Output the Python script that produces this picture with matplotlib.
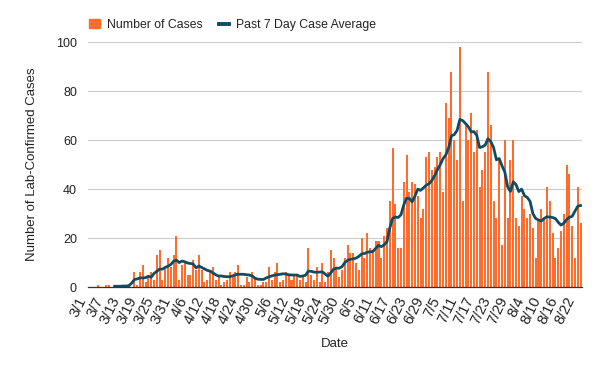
import numpy as np
import pandas as pd
import matplotlib
matplotlib.use("Agg")
from matplotlib import pyplot as plt
from matplotlib.patches import Patch
from matplotlib.lines import Line2D

plt.rcParams['font.family'] = ['Liberation Sans', 'DejaVu Sans']

# daily lab-confirmed cases, 3/1 .. 8/24
cases = [
    0, 0, 0, 1, 0, 0, 1, 1, 0, 1,
    0, 0, 0, 0, 1, 0, 6, 1, 6, 9,
    2, 4, 6, 3, 13, 15, 3, 8, 12, 8,
    13, 21, 3, 9, 10, 5, 5, 11, 7, 13,
    7, 2, 3, 6, 8, 3, 5, 1, 2, 3,
    6, 4, 6, 9, 1, 1, 4, 2, 6, 4,
    1, 1, 2, 2, 8, 3, 6, 10, 2, 3,
    6, 5, 3, 5, 5, 3, 4, 2, 16, 5,
    3, 8, 2, 10, 2, 6, 15, 12, 8, 4,
    7, 12, 17, 14, 14, 10, 7, 20, 12, 22,
    16, 15, 19, 19, 12, 21, 24, 35, 57, 34,
    16, 16, 43, 54, 39, 43, 42, 37, 28, 32,
    53, 55, 48, 49, 53, 55, 39, 75, 69, 88,
    60, 52, 98, 35, 66, 60, 71, 55, 64, 41,
    48, 55, 88, 66, 35, 28, 52, 17, 60, 28,
    52, 60, 28, 25, 37, 32, 28, 30, 24, 12,
    27, 32, 28, 41, 35, 22, 12, 16, 23, 30,
    50, 46, 25, 12, 41, 26,
]

# past 7 day average as drawn (starts a few days in)
avg = [
    None, None, None, None, None, None, None, None, None, 0.3,
    0.3, 0.3, 0.4, 0.4, 0.5, 1.5, 3.0, 3.3, 3.7, 3.7,
    3.8, 4.4, 4.0, 5.5, 6.4, 7.3, 7.3, 8.0, 8.5, 9.2,
    10.5, 11.0, 10.0, 10.6, 10.3, 9.8, 9.6, 9.4, 7.8, 8.6,
    8.0, 7.4, 6.8, 6.5, 5.8, 5.0, 4.5, 4.5, 4.3, 4.2,
    4.2, 4.5, 5.0, 5.2, 5.2, 5.2, 5.0, 4.9, 4.5, 3.6,
    3.2, 3.1, 3.1, 3.7, 4.2, 4.5, 4.9, 5.0, 5.2, 5.4,
    5.3, 5.0, 4.9, 4.9, 4.9, 4.3, 4.5, 4.8, 6.5, 6.4,
    6.1, 6.0, 6.1, 6.2, 5.3, 4.4, 5.8, 7.3, 7.7, 7.7,
    8.3, 10.0, 10.9, 11.3, 11.5, 11.8, 12.5, 13.5, 13.7, 14.2,
    14.4, 14.5, 15.8, 17.0, 16.5, 17.2, 18.5, 24.0, 28.0, 28.6,
    28.4, 29.5, 33.5, 36.3, 36.2, 34.8, 37.2, 40.0, 39.5, 40.5,
    41.6, 42.2, 43.5, 45.5, 48.0, 50.0, 52.5, 54.0, 57.0, 61.8,
    62.3, 64.0, 68.5, 68.0, 66.8, 65.5, 63.4, 63.5, 62.0, 57.0,
    57.3, 58.0, 60.6, 59.4, 57.0, 52.0, 52.5, 49.5, 47.0, 41.0,
    39.0, 43.0, 41.8, 39.0, 40.0, 37.3, 36.6, 35.0, 30.0, 28.0,
    27.4, 27.0, 28.0, 28.7, 28.6, 28.4, 28.0, 26.5, 25.3, 26.0,
    27.5, 28.5, 28.9, 31.0, 33.0, 33.3,
]

days = pd.date_range("2020-03-01", periods=len(cases))
date_labels = [f"{d.month}/{d.day}" for d in days]

bar_color = '#ff6d2e'
line_color = '#0f4c63'
text_color = '#222222'

fig = plt.figure(figsize=(6, 3.71), dpi=100)
ax = fig.add_axes([88 / 600, 1 - 287 / 371, 494 / 600, (287 - 42.3) / 371])

x = np.arange(len(cases))
ax.bar(x, cases, width=0.72, color=bar_color, zorder=2)
ax.plot(x, np.array(avg, dtype=float), color=line_color, lw=2.0, zorder=3)

ax.set_xlim(-0.5, len(cases) - 0.5)
ax.set_ylim(0, 100)
ax.set_yticks(range(0, 101, 20))
ax.grid(axis='y', color='#cccccc', lw=0.8, zorder=0)
ax.set_axisbelow(True)
for s in ['top', 'right', 'left']:
    ax.spines[s].set_visible(False)
ax.spines['bottom'].set_color('#333333')
ax.spines['bottom'].set_linewidth(0.9)

ax.set_xticks(x[::6])
ax.set_xticklabels(date_labels[::6], rotation=64, ha='right', va='bottom',
                   rotation_mode='anchor', fontsize=10.5, color=text_color)
ax.tick_params(axis='x', length=0, pad=10)
ax.tick_params(axis='y', length=0, pad=8, labelsize=9, labelcolor=text_color)

ax.set_xlabel("Date", fontsize=9.5, color=text_color, labelpad=8)
ax.set_ylabel("Number of Lab-Confirmed Cases", fontsize=9.5, color=text_color, labelpad=13)

handles = [Patch(color=bar_color, label='Number of Cases'),
           Line2D([0], [0], color=line_color, lw=2.8, label='Past 7 Day Case Average')]
fig.legend(handles=handles, loc='center', bbox_to_anchor=(0.388, 1 - 25 / 371),
           ncol=2, frameon=False, fontsize=8.8, handlelength=0.85, handleheight=0.75,
           columnspacing=1.3, handletextpad=0.6, labelcolor=text_color)

fig.savefig("out.png", dpi=100)
